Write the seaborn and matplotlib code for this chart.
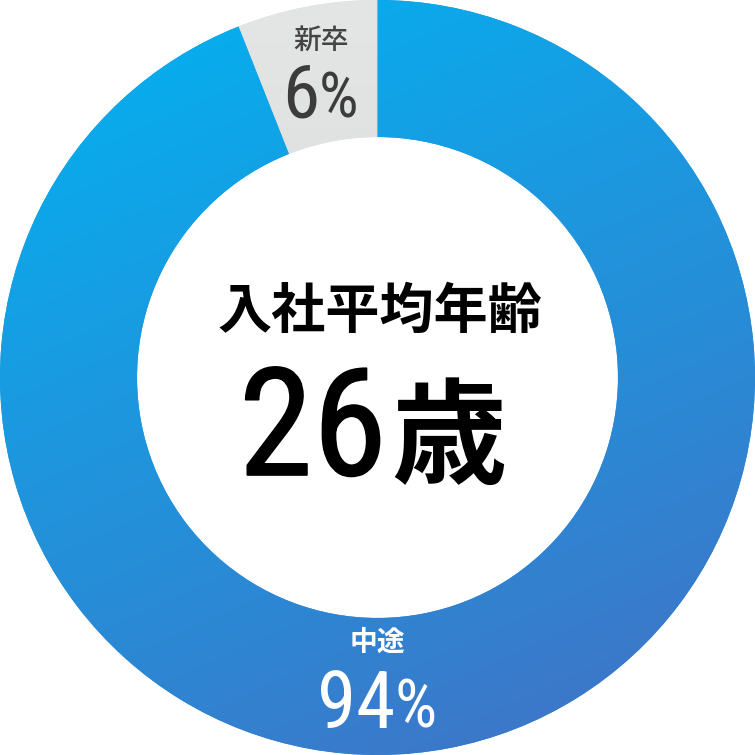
import numpy as np
import matplotlib
matplotlib.use("Agg")
import matplotlib.pyplot as plt
import matplotlib.patheffects as pe
import seaborn as sns

# data
labels = ["新卒", "中途"]
shares = [6, 94]
title_text = "入社平均年齢"
age_value = "26"
age_unit = "歳"

sns.set_style("white")
plt.rcParams["font.family"] = ["Noto Sans CJK JP", "DejaVu Sans"]

NUM_FONT = ["Roboto Condensed", "DejaVu Sans"]
JP_FONT = ["Noto Sans CJK JP", "DejaVu Sans"]

fig = plt.figure(figsize=(7.55, 7.55), dpi=100)
ax = fig.add_axes([0, 0, 1, 1])

wedges, _ = ax.pie(
    shares,
    startangle=90,
    counterclock=True,
    radius=1.0,
    colors=["#d9dada", "#1f94dd"],
    wedgeprops=dict(width=0.363, edgecolor="none"),
)
ax.set_xlim(-1, 1)
ax.set_ylim(-1, 1)
ax.set_aspect("equal")
ax.axis("off")


def gradient_fill(wedge, c0, c1, direction):
    # linear gradient clipped to the wedge shape
    n = 400
    xs = np.linspace(-1, 1, n)
    gx, gy = np.meshgrid(xs, xs[::-1])
    d = np.array(direction) / np.linalg.norm(direction)
    t = gx * d[0] + gy * d[1]
    t = (t - t.min()) / (t.max() - t.min())
    c0 = np.array(matplotlib.colors.to_rgb(c0))
    c1 = np.array(matplotlib.colors.to_rgb(c1))
    img = c0[None, None, :] * (1 - t[..., None]) + c1[None, None, :] * t[..., None]
    im = ax.imshow(img, extent=(-1, 1, -1, 1), origin="upper", zorder=wedge.get_zorder() + 0.1)
    im.set_clip_path(wedge)


gradient_fill(wedges[0], "#e4e5e5", "#d2d3d3", (0.0, -1.0))
gradient_fill(wedges[1], "#00b4f2", "#4470c4", (0.45, -1.0))


def px(x, y):
    return (x - 377.5) / 377.5, (377.5 - y) / 377.5


# 新卒 label
ax.text(*px(321, 40), labels[0], ha="center", va="center", fontsize=20,
        color="#444444", family=JP_FONT, fontweight="medium", zorder=5)
ax.text(*px(319, 118), f"{shares[0]}", ha="right", va="baseline", fontsize=54,
        color="#3c3c3c", family=NUM_FONT, zorder=5)
ax.text(*px(319, 118), "%", ha="left", va="baseline", fontsize=45,
        color="#3c3c3c", family=NUM_FONT, zorder=5)

# 中途 label
ax.text(*px(377, 643), labels[1], ha="center", va="center", fontsize=20,
        color="white", family=JP_FONT, fontweight="bold", zorder=5)
ax.text(*px(395, 728), f"{shares[1]}", ha="right", va="baseline", fontsize=57,
        color="white", family=NUM_FONT, zorder=5)
ax.text(*px(395, 728), "%", ha="left", va="baseline", fontsize=48,
        color="white", family=NUM_FONT, zorder=5)

# center text
ax.text(*px(380, 312), title_text, ha="center", va="center", fontsize=39,
        color="black", family=JP_FONT, fontweight="bold", zorder=5)
ax.text(*px(387, 475), age_value, ha="right", va="baseline", fontsize=108,
        color="black", family=NUM_FONT, zorder=5,
        path_effects=[pe.withStroke(linewidth=1.2, foreground="black")])
ax.text(*px(391, 475), age_unit, ha="left", va="baseline", fontsize=83,
        color="black", family=JP_FONT, fontweight="bold", zorder=5)

fig.savefig("out.png", dpi=100, facecolor="white")
